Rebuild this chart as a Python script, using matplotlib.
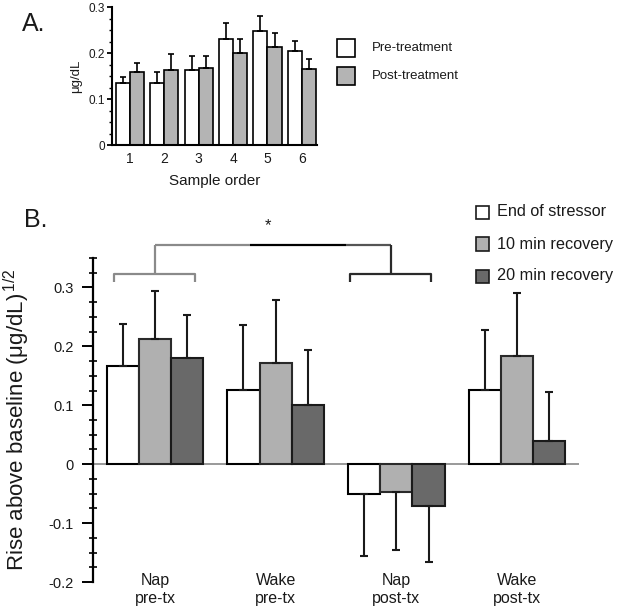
import matplotlib
matplotlib.use("Agg")
import matplotlib.pyplot as plt
import numpy as np
from matplotlib.patches import Rectangle
from matplotlib.lines import Line2D

plt.rcParams['font.family'] = ['Liberation Sans', 'DejaVu Sans']
plt.rcParams['mathtext.fontset'] = 'custom'
plt.rcParams['mathtext.rm'] = 'Liberation Sans'
plt.rcParams['mathtext.it'] = 'Liberation Sans:italic'

TXT = '#1a1a1a'

# ---------------- Panel A data ----------------
sample_order = ['1', '2', '3', '4', '5', '6']
pre_treatment = [0.135, 0.135, 0.164, 0.231, 0.247, 0.204]
pre_treatment_err = [0.013, 0.024, 0.029, 0.035, 0.033, 0.022]
post_treatment = [0.158, 0.164, 0.168, 0.201, 0.213, 0.166]
post_treatment_err = [0.021, 0.033, 0.025, 0.029, 0.031, 0.021]
a_yticks = [0, 0.1, 0.2, 0.3]
a_yticklabels = ['0', '0.1', '0.2', '0.3']

# ---------------- Panel B data ----------------
groups = ['Nap\npre-tx', 'Wake\npre-tx', 'Nap\npost-tx', 'Wake\npost-tx']
end_of_stressor = [0.167, 0.126, -0.051, 0.126]
end_of_stressor_err = [0.071, 0.110, 0.105, 0.101]
recovery_10 = [0.212, 0.172, -0.048, 0.184]
recovery_10_err = [0.082, 0.106, 0.097, 0.106]
recovery_20 = [0.180, 0.101, -0.071, 0.039]
recovery_20_err = [0.073, 0.092, 0.095, 0.084]
b_series_names = ['End of stressor', '10 min recovery', '20 min recovery']
b_yticks = [-0.2, -0.1, 0, 0.1, 0.2, 0.3]
b_yticklabels = ['-0.2', '-0.1', '0', '0.1', '0.2', '0.3']

W, H = 622, 612
fig = plt.figure(figsize=(W / 100, H / 100), dpi=100)


def fx(px):
    return px / W


def fy(py):
    return 1 - py / H


# ================= Panel A =================
axA = fig.add_axes([fx(112), fy(145), fx(317 - 112), (145 - 7) / H])
xa = np.arange(len(sample_order))
wa = 0.41
axA.bar(xa - wa / 2, pre_treatment, wa, color='white', edgecolor='black', linewidth=1.2,
        yerr=[np.zeros(len(xa)), pre_treatment_err], capsize=2,
        error_kw=dict(elinewidth=1.2, ecolor='black', capthick=1.2), zorder=2)
axA.bar(xa + wa / 2, post_treatment, wa, color='#b4b4b4', edgecolor='black', linewidth=1.2,
        yerr=[np.zeros(len(xa)), post_treatment_err], capsize=2,
        error_kw=dict(elinewidth=1.2, ecolor='black', capthick=1.2), zorder=2)
axA.set_xlim(-0.52, 5.44)
axA.set_ylim(0, 0.3)
axA.set_yticks(a_yticks)
axA.set_yticklabels(a_yticklabels, fontsize=8.5, color=TXT)
axA.set_yticks(np.arange(0, 0.3001, 0.025), minor=True)
axA.set_xticks(xa)
axA.set_xticklabels(sample_order, fontsize=10, color=TXT)
axA.tick_params(axis='x', length=0, pad=5)
axA.tick_params(axis='y', which='major', length=3.5, width=1.3, direction='out', pad=1.5)
axA.tick_params(axis='y', which='minor', length=2.5, width=1.0, direction='out')
for s in ['top', 'right']:
    axA.spines[s].set_visible(False)
axA.spines['left'].set_linewidth(1.5)
axA.spines['bottom'].set_linewidth(1.5)
axA.set_xlabel('Sample order', fontsize=11, color=TXT, labelpad=6)
axA.set_ylabel('μg/dL', fontsize=9.5, color=TXT)
axA.yaxis.set_label_coords(-0.145, 0.5)

fig.text(fx(22), fy(24), 'A.', fontsize=18, color=TXT, va='center', ha='left')

# Legend A
for i, (lab, col) in enumerate(zip(['Pre-treatment', 'Post-treatment'], ['white', '#b4b4b4'])):
    cy = 48 + i * 28
    fig.add_artist(Rectangle((fx(337), fy(cy + 9)), fx(18), 18 / H, facecolor=col,
                             edgecolor='black', linewidth=1.2, transform=fig.transFigure))
    fig.text(fx(372), fy(cy), lab, fontsize=9.5, color=TXT, va='center', ha='left')

# ================= Panel B =================
axB = fig.add_axes([fx(93), fy(582), fx(579 - 93), (582 - 258) / H])
xb = np.arange(len(groups))
wb = 0.267
b_colors = ['white', '#b0b0b0', '#696969']
b_edges = ['black', '#2a2a2a', '#1a1a1a']
series = [(end_of_stressor, end_of_stressor_err),
          (recovery_10, recovery_10_err),
          (recovery_20, recovery_20_err)]
for k, (vals, errs) in enumerate(series):
    vals = np.array(vals)
    errs = np.array(errs)
    lower = np.where(vals < 0, errs, 0)
    upper = np.where(vals >= 0, errs, 0)
    axB.bar(xb + (k - 1) * wb, vals, wb, color=b_colors[k], edgecolor=b_edges[k],
            linewidth=1.5, yerr=[lower, upper], capsize=3.2,
            error_kw=dict(elinewidth=1.5, ecolor='#1a1a1a', capthick=1.5), zorder=2)

axB.axhline(0, color='#888888', linewidth=1.2, zorder=1)
axB.set_xlim(-0.514, 3.514)
axB.set_ylim(-0.2, 0.35)
axB.set_yticks(b_yticks)
axB.set_yticklabels(b_yticklabels, fontsize=10.5, color=TXT)
axB.set_yticks(np.arange(-0.2, 0.3501, 0.025), minor=True)
axB.tick_params(axis='y', which='major', length=8, width=1.4, direction='out', pad=6)
axB.tick_params(axis='y', which='minor', length=6, width=1.2, direction='inout')
axB.set_xticks([])
for i, g in enumerate(groups):
    axB.text(xb[i], -0.185, g, fontsize=11.5, color=TXT, ha='center', va='top',
             linespacing=1.2, clip_on=False)
for s in ['top', 'right', 'bottom']:
    axB.spines[s].set_visible(False)
axB.spines['left'].set_linewidth(1.6)
axB.set_ylabel(r'Rise above baseline (μg/dL)$^{\,1/2}$', fontsize=16, color=TXT)
axB.yaxis.set_label_coords(-0.125, 0.5)

fig.text(fx(24), fy(220), 'B.', fontsize=18, color=TXT, va='center', ha='left')

# Significance brackets
def seg(xs, ys, col):
    axB.add_line(Line2D(xs, ys, color=col, linewidth=1.6, clip_on=False,
                        solid_capstyle='butt'))

gL = '#8a8a8a'
gR = '#2a2a2a'
top_y = 0.372
mid_y = 0.323
end_y = 0.310
left_c, right_c = 0.0, 1.955
# left bracket
seg([-0.34, -0.34, 0.33, 0.33], [end_y, mid_y, mid_y, end_y], gL)
seg([left_c, left_c], [mid_y, top_y], gL)
# top line
seg([left_c, 0.79], [top_y, top_y], gL)
seg([0.79, 1.58], [top_y, top_y], 'black')
seg([1.58, right_c], [top_y, top_y], '#555555')
# right bracket
seg([right_c, right_c], [top_y, mid_y], gR)
seg([1.62, 1.62, 2.29, 2.29], [end_y, mid_y, mid_y, end_y], gR)
axB.text(0.94, 0.405, '*', fontsize=12, color=TXT, ha='center', va='center',
         transform=axB.transData, clip_on=False)

# Legend B
for i, (lab, col) in enumerate(zip(b_series_names, b_colors)):
    cy = 212 + i * 32
    fig.add_artist(Rectangle((fx(476), fy(cy + 6.5)), fx(13), 13 / H, facecolor=col,
                             edgecolor='#1a1a1a', linewidth=1.2, transform=fig.transFigure))
    fig.text(fx(497), fy(cy), lab, fontsize=11.7, color=TXT, va='center', ha='left')

fig.savefig('out.png', dpi=100)
